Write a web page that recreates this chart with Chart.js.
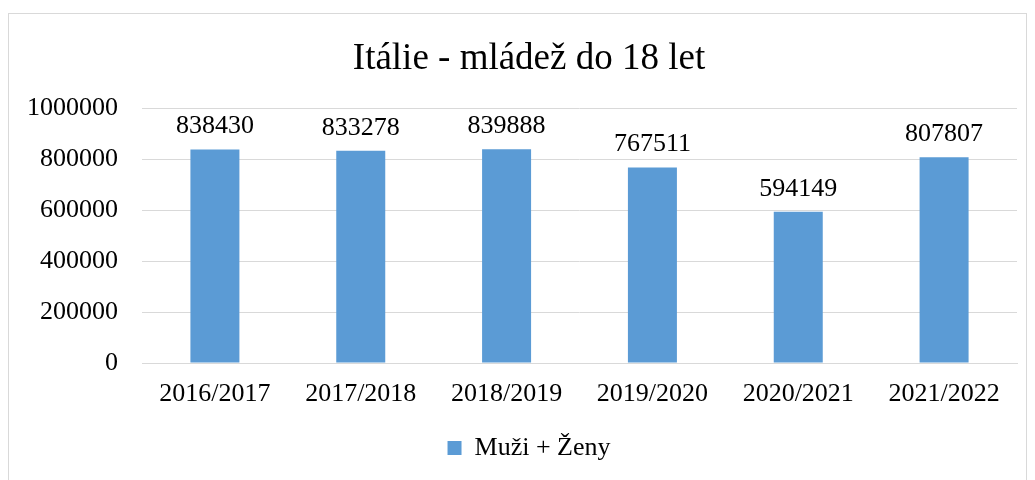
<!DOCTYPE html>
<html><head><meta charset="utf-8">
<script src="https://cdn.jsdelivr.net/npm/chart.js@4"></script>
<style>
html,body{margin:0;padding:0;background:#fff;width:1035px;height:480px;overflow:hidden;}
#frame{position:absolute;left:8px;top:13px;width:1019px;height:480px;border:1px solid #d9d9d9;box-sizing:border-box;}
#wrap{position:absolute;left:0;top:0;width:1035px;height:480px;}
</style></head><body>
<div id="frame"></div>
<div id="wrap"><canvas id="c" width="1035" height="480"></canvas></div>
<script>
const categories = ["2016/2017","2017/2018","2018/2019","2019/2020","2020/2021","2021/2022"];
const values = [838430, 833278, 839888, 767511, 594149, 807807];
const seriesName = "Muži + Ženy";
const titleText = "Itálie - mládež do 18 let";
const FONT = "'Liberation Serif','Times New Roman',serif";

const labelPlugin = {
  id: 'valueLabels',
  afterLayout(chart) {
    // widen the label clip region of the y axis so long tick labels are not cut
    if (chart.scales.y) chart.scales.y.left = 0;
  },
  afterDatasetsDraw(chart) {
    const ctx = chart.ctx;
    const meta = chart.getDatasetMeta(0);
    ctx.save();
    ctx.font = "26px " + FONT;
    ctx.fillStyle = "#000";
    ctx.textAlign = "center";
    ctx.textBaseline = "middle";
    meta.data.forEach((bar, i) => {
      ctx.fillText(String(values[i]), bar.x, bar.y - 23);
    });
    ctx.restore();
  }
};

new Chart(document.getElementById('c'), {
  type: 'bar',
  data: {
    labels: categories,
    datasets: [{
      label: seriesName,
      data: values,
      backgroundColor: '#5B9BD5',
      borderWidth: 0,
      categoryPercentage: 1,
      barPercentage: 0.336
    }]
  },
  options: {
    responsive: false,
    animation: false,
    layout: { padding: { left: 41, right: 18, top: 0, bottom: 9 } },
    plugins: {
      title: {
        display: true,
        text: titleText,
        color: '#000',
        font: { family: FONT, size: 37, weight: 'normal' },
        padding: { top: 37, bottom: 27 }
      },
      legend: {
        position: 'bottom',
        labels: {
          color: '#000',
          font: { family: FONT, size: 26 },
          boxWidth: 14,
          boxHeight: 14,
          padding: 10
        }
      },
      tooltip: { enabled: false }
    },
    scales: {
      x: {
        grid: { display: false, drawTicks: false },
        border: { display: true, color: '#d9d9d9', width: 1 },
        ticks: { color: '#000', font: { family: FONT, size: 26 }, padding: 16, maxRotation: 0 },
        afterFit(s) { s.height = 62; }
      },
      y: {
        min: 0, max: 1000000,
        ticks: { stepSize: 200000, color: '#000', font: { family: FONT, size: 26 }, padding: 24,
                 callback: v => String(v) },
        grid: { color: '#d9d9d9', drawTicks: false },
        border: { display: false },
        afterFit(s) { s.width = 101; }
      }
    }
  },
  plugins: [labelPlugin]
});
</script>
</body></html>
